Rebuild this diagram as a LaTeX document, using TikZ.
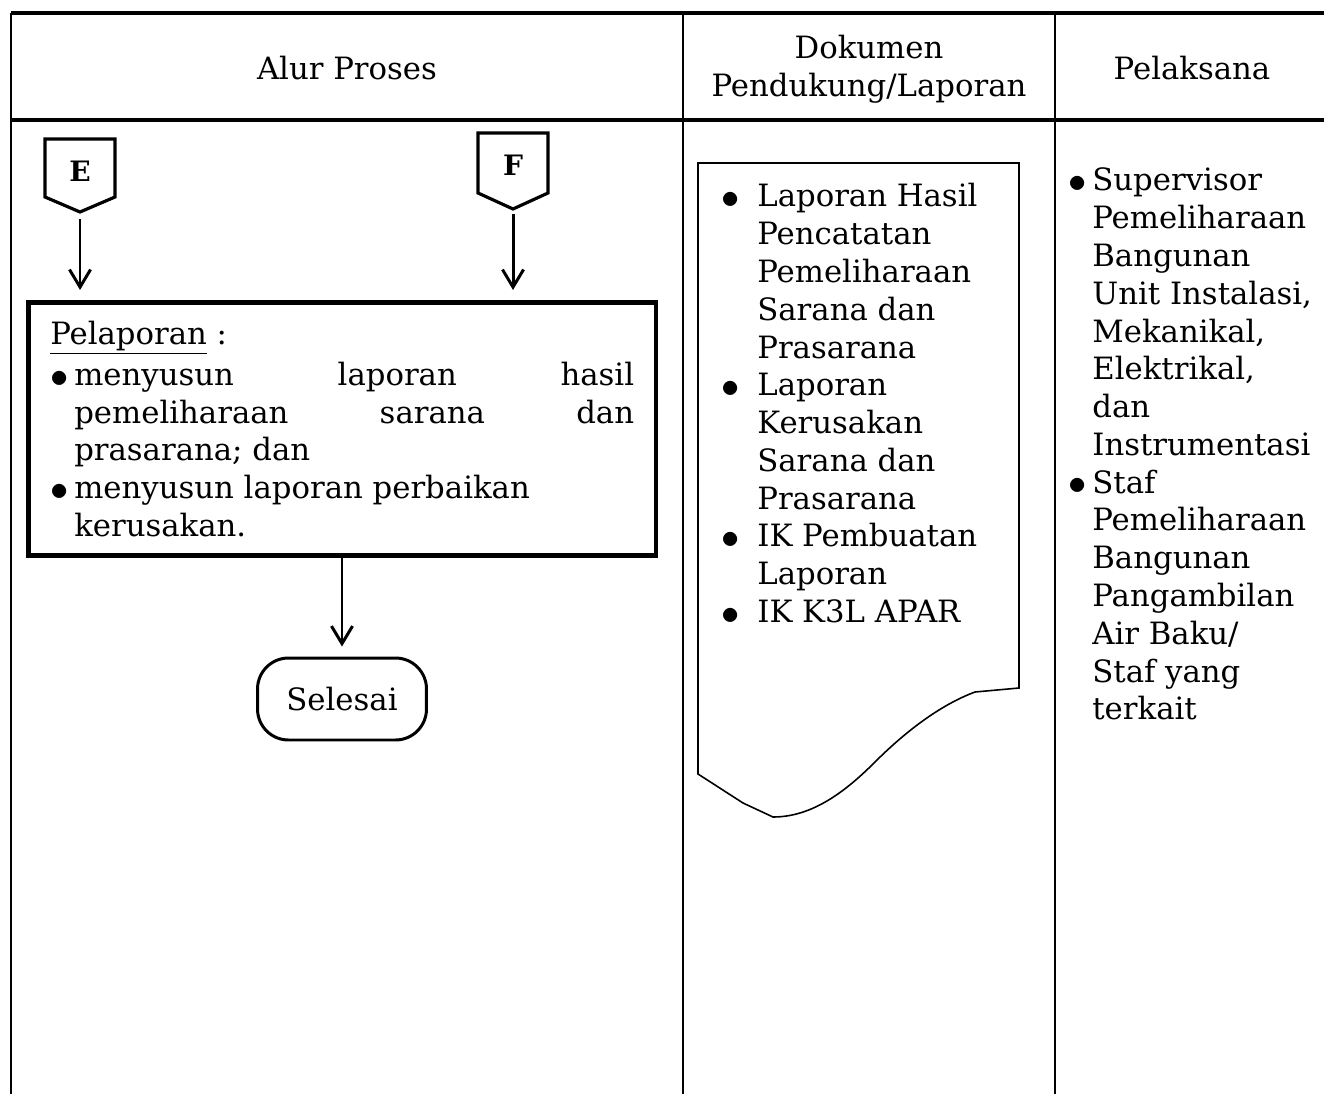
\documentclass[tikz,border=0pt]{standalone}
\usepackage{fontspec}
\usepackage{graphicx}
\setmainfont{DejaVu Serif}
\usetikzlibrary{arrows.meta,positioning}

\newcommand{\bulat}{\raisebox{-1pt}{\scalebox{1.2}{$\bullet$}}}
\newcommand{\butir}[1]{\makebox[#1][l]{\bulat}}

\begin{document}
\begin{tikzpicture}[x=0.02cm, y=-0.02cm,
  every node/.style={font=\fontsize{17.5}{21.5}\selectfont, inner sep=0pt},
  garis/.style={line width=1.4pt},
  garistebal/.style={line width=1.8pt},
  panah/.style={-{Straight Barb[length=10pt, width=12pt, line width=1.7pt]}, line width=1.7pt},
  konektor/.style={line width=1.8pt, line join=miter},
  prosesbox/.style={draw, line width=2.6pt, inner xsep=0.44cm, align=justify},
  terminal/.style={draw, line width=1.7pt, rounded corners=0.62cm, minimum width=3.38cm, minimum height=1.64cm}]

  \useasboundingbox (0,0) rectangle (1324,1094);

  %% Table frame
  \draw[garistebal] (11,13) -- (1324,13);
  \draw[garistebal] (11,120) -- (1324,120);
  \draw[garis] (11,13) -- (11,1094);
  \draw[garis] (683,13) -- (683,1094);
  \draw[garis] (1055,13) -- (1055,1094);

  % Header
  \node (hAlur) at (347,68) {Alur Proses};
  \node[align=center] (hDok) at (869,69) {Dokumen\\Pendukung/Laporan};
  \node (hPel) at (1192,68) {Pelaksana};

  %% Column 1: process flow
  % Off-page connectors
  \draw[konektor] (45,139) -- (115,139) -- (115,197) -- (80,212) -- (45,197) -- cycle;
  \node[font=\fontsize{16}{18}\selectfont\bfseries] (E) at (80,171) {E};
  \coordinate (Etip) at (80,212);

  \draw[konektor] (478,133) -- (548,133) -- (548,193) -- (513,209) -- (478,193) -- cycle;
  \node[font=\fontsize{16}{18}\selectfont\bfseries] (F) at (513,165) {F};
  \coordinate (Ftip) at (513,209);

  % Pelaporan box
  \node[prosesbox, anchor=north west, text width=11.68cm, minimum height=5.06cm] (lapor) at (26,300)
    {\parindent=0pt\hyphenpenalty=10000\exhyphenpenalty=10000
     \underline{Pelaporan} :\par\vspace{2pt}
     \hangindent=0.48cm\hangafter=1
     \butir{0.48cm}menyusun laporan hasil pemeliharaan sarana dan prasarana; dan\par
     \hangindent=0.48cm\hangafter=1
     \butir{0.48cm}menyusun laporan perbaikan\hfill\break kerusakan.\par};

  \draw[panah, shorten <=0.14cm, shorten >=0.2cm] (Etip) -- (Etip |- lapor.north);
  \draw[panah, shorten <=0.1cm, shorten >=0.2cm] (Ftip) -- (Ftip |- lapor.north);

  % End
  \node[terminal] (selesai) at (342,699) {Selesai};
  \draw[panah, shorten >=0.2cm] (selesai |- lapor.south) -- (selesai.north);

  %% Column 2: document shape
  \draw[line width=0.9pt, line join=miter]
    (698,774) -- (698,163) -- (1019,163) -- (1019,688) -- (975,692)
    .. controls (940,705) and (905,732) .. (875,762)
    .. controls (845,792) and (812,817) .. (773,817)
    -- (743,803) -- cycle;

  \node[anchor=base west] (dok) at (721,207)
    {\begin{tabular}[t]{@{}p{0.72cm}@{}l@{}}
      \bulat & Laporan Hasil\\
             & Pencatatan\\
             & Pemeliharaan\\
             & Sarana dan\\
             & Prasarana\\
      \bulat & Laporan\\
             & Kerusakan\\
             & Sarana dan\\
             & Prasarana\\
      \bulat & IK Pembuatan\\
             & Laporan\\
      \bulat & IK K3L APAR
     \end{tabular}};

  %% Column 3: executors
  \node[anchor=base west] (pelaksana) at (1068,191)
    {\begin{tabular}[t]{@{}p{0.48cm}@{}l@{}}
      \bulat & Supervisor\\
             & Pemeliharaan\\
             & Bangunan\\
             & Unit Instalasi,\\
             & Mekanikal,\\
             & Elektrikal,\\
             & dan\\
             & Instrumentasi\\
      \bulat & Staf\\
             & Pemeliharaan\\
             & Bangunan\\
             & Pangambilan\\
             & Air Baku/\\
             & Staf yang\\
             & terkait
     \end{tabular}};
\end{tikzpicture}
\end{document}
